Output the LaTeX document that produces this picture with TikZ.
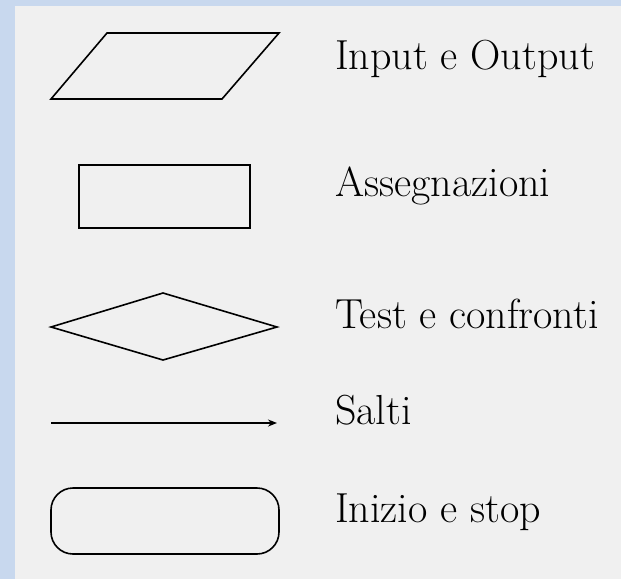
\documentclass[tikz,border=0pt]{standalone}
\usepackage{tikz}
\usetikzlibrary{arrows.meta}
\definecolor{frameblue}{RGB}{200, 216, 238}
\definecolor{bggray}{RGB}{240, 240, 240}
\tikzset{
  shapeline/.style={black, line width=1.6pt, line join=miter},
  legendtext/.style={anchor=base west, inner sep=0pt, font=\fontsize{42}{48}\selectfont}
}

\begin{document}
\begin{tikzpicture}[x=1pt, y=-1pt]
  % 边框与背景
  \useasboundingbox (0,0) rectangle (621,579);
  \fill[frameblue] (0,0) rectangle (621,579);
  \fill[bggray] (15,6) rectangle (621,579);

  % 输入输出（平行四边形）
  \draw[shapeline] (107,33) -- (279,33) -- (222,99) -- (51,99) -- cycle;
  \node[legendtext] (io) at (335,69) {Input e Output};

  % 赋值（矩形）
  \draw[shapeline] (79,165) rectangle (250,228);
  \node[legendtext] (assign) at (335,196) {Assegnazioni};

  % 判断（菱形）
  \draw[shapeline] (51,327) -- (163,293) -- (277,327) -- (163,360) -- cycle;
  \node[legendtext] (test) at (335,328) {Test e confronti};

  % 跳转（箭头）
  \coordinate (jumpA) at (51,423);
  \coordinate (jumpB) at (277,423);
  \draw[shapeline, -{Stealth[length=9pt, width=7pt]}] (jumpA) -- (jumpB);
  \node[legendtext] (jump) at (335,424) {Salti};

  % 开始结束（圆角矩形）
  \draw[shapeline, rounded corners=22pt] (51,488) rectangle (279,554);
  \node[legendtext] (startstop) at (335,522) {Inizio e stop};

\end{tikzpicture}
\end{document}
